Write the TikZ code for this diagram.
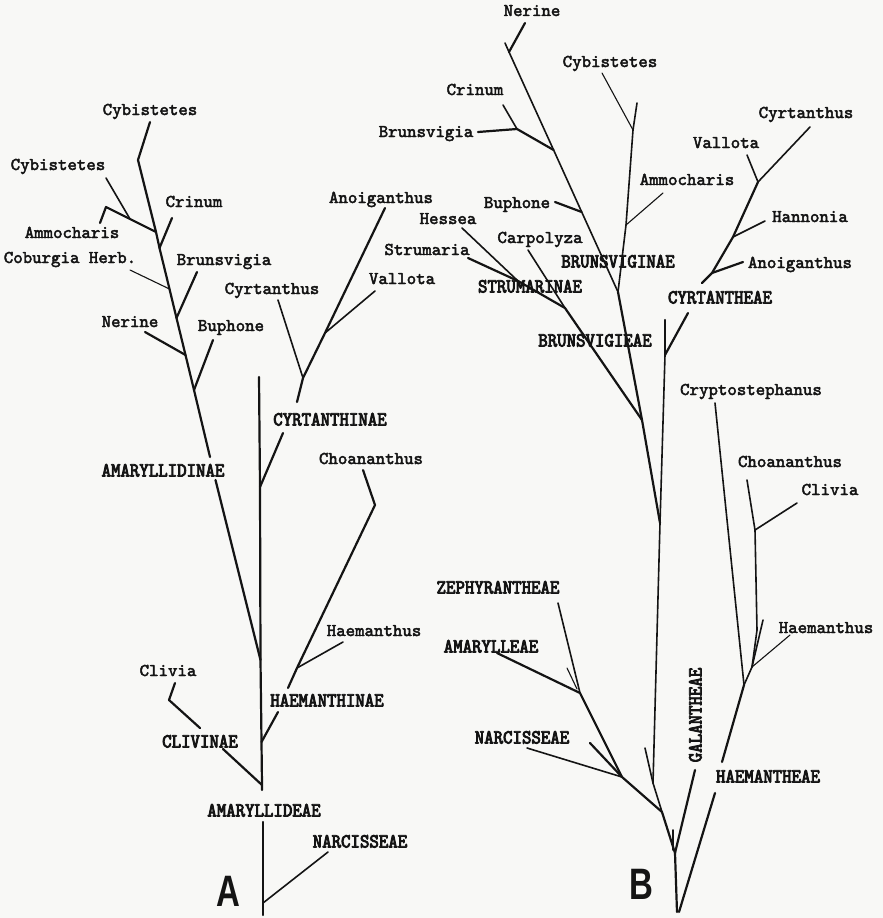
\documentclass[tikz,border=0pt]{standalone}
\usepackage{fontspec}
\newfontfamily\twfont[FakeBold=2.6]{lmmono10-regular.otf}
\newfontfamily\capfont[FakeBold=4.2,FakeStretch=0.9]{lmmono10-regular.otf}
\newfontfamily\letterfont[FakeStretch=0.75]{Liberation Sans Bold}
\definecolor{bgc}{RGB}{248,248,246}
\definecolor{ink}{RGB}{20,20,20}
\begin{document}
\begin{tikzpicture}[x=1pt,y=-1pt,
  lc/.style={inner sep=0pt,text height=10pt,text depth=0pt,text=ink,font=\twfont\fontsize{18}{18}\selectfont},
  uc/.style={inner sep=0pt,text height=11pt,text depth=0pt,text=ink,font=\capfont\fontsize{20}{20}\selectfont},
  letterlbl/.style={inner sep=0pt,text=ink,font=\letterfont\fontsize{44}{44}\selectfont},
  thk/.style={draw=ink,line width=2.2pt,line cap=round,line join=round},
  med/.style={draw=ink,line width=1.6pt,line cap=round,line join=round},
  thn/.style={draw=ink,line width=1.1pt,line cap=round,line join=round}]
\fill[bgc] (0,0) rectangle (883,918);
\useasboundingbox (0,0) rectangle (883,918);

%%%%%%%%%%%%%%%% TREE A %%%%%%%%%%%%%%%%
\coordinate (aC1) at (150,122);
\coordinate (aS0) at (138,160);
\coordinate (aJ1) at (156,232);
\coordinate (aK) at (106,207);
\coordinate (aAmT) at (100,223);
\coordinate (aC2T) at (106,178);
\coordinate (aC2J) at (130,219);
\coordinate (aCrT) at (172,218);
\coordinate (aCrJ) at (159.5,248);
\coordinate (aCoT) at (130,270);
\coordinate (aCoJ) at (169.5,289);
\coordinate (aBrT) at (197,272);
\coordinate (aBrJ) at (176.5,318);
\coordinate (aNeT) at (145,332);
\coordinate (aNeJ) at (185.5,355);
\coordinate (aBuT) at (213,340);
\coordinate (aBuJ) at (194,390);
\coordinate (aSa) at (210,457);
\coordinate (aSb) at (215.5,480);
\coordinate (aX0) at (259,377);
\coordinate (aCyJ) at (260,487);
\coordinate (aSJ) at (260.5,660);
\coordinate (aHmJ) at (261.5,742);
\coordinate (aClJ) at (262,785);
\coordinate (aX1) at (262,790);
\coordinate (aX2) at (263,822);
\coordinate (aNaJ) at (263,903);
\coordinate (aX3) at (263,915);
\coordinate (aCyT) at (283,433);
\coordinate (aCyB) at (297,402);
\coordinate (aCyK) at (303,378);
\coordinate (aVaJ) at (325,333);
\coordinate (aAnT) at (385,208);
\coordinate (aCtT) at (278,300);
\coordinate (aVaT) at (375,291);
\coordinate (aChT) at (363,470);
\coordinate (aChK) at (375,505);
\coordinate (aHaJ) at (297,668);
\coordinate (aHmB) at (288,688);
\coordinate (aHaT) at (343,642);
\coordinate (aHmT) at (278,712);
\coordinate (aClT) at (175,683);
\coordinate (aClK) at (169,700);
\coordinate (aClB) at (200,728);
\coordinate (aClU) at (223,749);
\coordinate (aNaT) at (328,852);

\path[thk] (aC1) -- (aS0) -- (aJ1) -- (aCrJ) -- (aCoJ) -- (aBrJ) -- (aNeJ) -- (aBuJ) -- (aSa);
\path[thk] (aSb) -- (aSJ);
\path[thk] (aAmT) -- (aK) -- (aJ1);
\path[med] (aC2T) -- (aC2J);
\path[thk] (aCrT) -- (aCrJ);
\path[thn] (aCoT) -- (aCoJ);
\path[thk] (aBrT) -- (aBrJ);
\path[thk] (aNeT) -- (aNeJ);
\path[thk] (aBuT) -- (aBuJ);
\path[thk] (aX0) -- (aCyJ) -- (aSJ) -- (aHmJ) -- (aClJ) -- (aX1);
\path[thk] (aX2) -- (aNaJ) -- (aX3);
\path[thk] (aCyT) -- (aCyJ);
\path[thk] (aCyB) -- (aCyK) -- (aVaJ) -- (aAnT);
\path[med] (aCtT) -- (aCyK);
\path[med] (aVaT) -- (aVaJ);
\path[thk] (aChT) -- (aChK) -- (aHaJ) -- (aHmB);
\path[med] (aHaT) -- (aHaJ);
\path[thk] (aHmT) -- (aHmJ);
\path[thk] (aClT) -- (aClK) -- (aClB);
\path[thk] (aClU) -- (aClJ);
\path[med] (aNaT) -- (aNaJ);

\node[lc] (lAcyb1) at (150,110) {Cybistetes};
\node[lc] (lAcyb2) at (58,165) {Cybistetes};
\node[lc] (lAamm) at (72,233) {Ammocharis};
\node[lc] (lAcrin) at (194,202) {Crinum};
\node[lc] (lAcob) at (70,258) {Coburgia Herb.};
\node[lc] (lAbrun) at (224,260) {Brunsvigia};
\node[lc] (lAner) at (130,322) {Nerine};
\node[lc] (lAbuph) at (231,326) {Buphone};
\node[uc] (lAamd) at (163,471) {AMARYLLIDINAE};
\node[lc] (lAanoi) at (381,198) {Anoiganthus};
\node[lc] (lAvall) at (402,279) {Vallota};
\node[lc] (lAcyrt) at (272,289) {Cyrtanthus};
\node[uc] (lAcyrtin) at (330,420) {CYRTANTHINAE};
\node[lc] (lAchoa) at (371,459) {Choananthus};
\node[lc] (lAhaem) at (374,631) {Haemanthus};
\node[uc] (lAhaemin) at (327,701) {HAEMANTHINAE};
\node[lc] (lAcliv) at (168,671) {Clivia};
\node[uc] (lAclivin) at (200,742) {CLIVINAE};
\node[uc] (lAamy) at (264,811) {AMARYLLIDEAE};
\node[uc] (lAnarc) at (360,842) {NARCISSEAE};
\node[letterlbl] (letA) at (228,891) {A};

%%%%%%%%%%%%%%%% TREE B %%%%%%%%%%%%%%%%
\coordinate (bNeT) at (525,23);
\coordinate (bNeJ) at (509,52);
\coordinate (bS0) at (505,43);
\coordinate (bBJs) at (553.6,150);
\coordinate (bBuJ) at (581.7,212);
\coordinate (bBN) at (618,292);
\coordinate (bCrT) at (503,105);
\coordinate (bBJ) at (517,129);
\coordinate (bBrT) at (478,132);
\coordinate (bBuT) at (555,202);
\coordinate (bCy0) at (637,103);
\coordinate (bCyJ) at (633,130);
\coordinate (bAmJ) at (626,225);
\coordinate (bCyT) at (602,73);
\coordinate (bAmT) at (663,193);
\coordinate (bBgJ) at (642,420);
\coordinate (bLgJ) at (660,523);
\coordinate (bHeT) at (462,228);
\coordinate (bSJ) at (518,281);
\coordinate (bStT) at (468,258);
\coordinate (bStJ) at (565,308);
\coordinate (bCaT) at (528,250);
\coordinate (bCtT) at (810,127);
\coordinate (bVaJ) at (758,182);
\coordinate (bHnJ) at (733,237);
\coordinate (bAnJ) at (712,273);
\coordinate (bCyB) at (702,283);
\coordinate (bVaT) at (747,155);
\coordinate (bHnT) at (765,221);
\coordinate (bAnT) at (743,262);
\coordinate (bL0) at (665,320);
\coordinate (bCyJ2) at (665,355);
\coordinate (bCyU) at (688,313);
\coordinate (bLB) at (653,783);
\coordinate (bCpT) at (715,403);
\coordinate (bHJ) at (744,685);
\coordinate (bChT) at (747,480);
\coordinate (bClJ) at (755,530);
\coordinate (bHk) at (757,630);
\coordinate (bHmJ) at (752,667);
\coordinate (bHtk) at (763,620);
\coordinate (bHaT) at (790,635);
\coordinate (bClT) at (797,503);
\coordinate (bHB) at (722,762);
\coordinate (bHeT2) at (715,793);
\coordinate (bTB2) at (679,912);
\coordinate (bGaT) at (695,770);
\coordinate (bTJ) at (675,853);
\coordinate (bTB) at (677,912);
\coordinate (bTk0) at (673,850);
\coordinate (bTk1) at (673,830);
\coordinate (bZeT) at (558,603);
\coordinate (bZJ) at (580,693);
\coordinate (bZk0) at (567,668);
\coordinate (bZk1) at (577,689);
\coordinate (bAyT) at (497,653);
\coordinate (bNJ) at (622,777);
\coordinate (bNaT) at (527,748);
\coordinate (bNk) at (590,743);
\coordinate (bMJ) at (662,812);
\coordinate (bLk) at (645,748);

\path[thk] (bNeT) -- (bNeJ);
\path[med] (bS0) -- (bNeJ) -- (bBJs) -- (bBuJ) -- (bBN);
\path[med] (bCrT) -- (bBJ);
\path[thk] (bBrT) -- (bBJ) -- (bBJs);
\path[thk] (bBuT) -- (bBuJ);
\path[med] (bCy0) -- (bCyJ) -- (bAmJ) -- (bBN);
\path[thn] (bCyT) -- (bCyJ);
\path[thn] (bAmT) -- (bAmJ);
\path[thk] (bBN) -- (bBgJ) -- (bLgJ);
\path[med] (bHeT) -- (bSJ);
\path[thk] (bStT) -- (bSJ) -- (bStJ);
\path[med] (bCaT) -- (bStJ);
\path[thk] (bStJ) -- (bBgJ);
\path[med] (bCtT) -- (bVaJ);
\path[med] (bVaT) -- (bVaJ);
\path[thk] (bVaJ) -- (bHnJ) -- (bAnJ) -- (bCyB);
\path[med] (bHnT) -- (bHnJ);
\path[thk] (bAnT) -- (bAnJ);
\path[thk] (bL0) -- (bCyJ2);
\path[thk] (bCyU) -- (bCyJ2);
\path[med] (bCyJ2) -- (bLgJ) -- (bLB);
\path[med] (bCpT) -- (bHJ);
\path[med] (bChT) -- (bClJ) -- (bHk) -- (bHmJ) -- (bHJ);
\path[med] (bHtk) -- (bHmJ);
\path[thn] (bHaT) -- (bHmJ);
\path[med] (bClT) -- (bClJ);
\path[thk] (bHJ) -- (bHB);
\path[thk] (bHeT2) -- (bTB2);
\path[thk] (bGaT) -- (bTJ);
\path[thk] (bTJ) -- (bTB);
\path[med] (bTk0) -- (bTk1);
\path[med] (bZeT) -- (bZJ);
\path[thn] (bZk0) -- (bZk1);
\path[thk] (bAyT) -- (bZJ) -- (bNJ);
\path[med] (bNaT) -- (bNJ);
\path[thk] (bNk) -- (bNJ);
\path[thk] (bNJ) -- (bMJ) -- (bTJ);
\path[med] (bLk) -- (bLB) -- (bMJ);

\node[lc] (lBner) at (532,11) {Nerine};
\node[lc] (lBcyb) at (610,62) {Cybistetes};
\node[lc] (lBcrin) at (475,90) {Crinum};
\node[lc] (lBbrun) at (426,132) {Brunsvigia};
\node[lc] (lBamm) at (687,180) {Ammocharis};
\node[lc] (lBbuph) at (517,203) {Buphone};
\node[lc] (lBhess) at (448,219) {Hessea};
\node[lc] (lBcarp) at (540,238) {Carpolyza};
\node[lc] (lBstrum) at (427,250) {Strumaria};
\node[uc] (lBbrnae) at (618,262) {BRUNSVIGINAE};
\node[uc] (lBstnae) at (530,287) {STRUMARINAE};
\node[uc] (lBbreae) at (595,341) {BRUNSVIGIEAE};
\node[lc] (lBcyrt) at (806,113) {Cyrtanthus};
\node[lc] (lBvall) at (726,143) {Vallota};
\node[lc] (lBhann) at (810,217) {Hannonia};
\node[lc] (lBanoi) at (800,263) {Anoiganthus};
\node[uc] (lBcyeae) at (720,298) {CYRTANTHEAE};
\node[lc] (lBcrypt) at (751,390) {Cryptostephanus};
\node[lc] (lBchoa) at (790,462) {Choananthus};
\node[lc] (lBcliv) at (830,490) {Clivia};
\node[lc] (lBhaem) at (826,628) {Haemanthus};
\node[uc] (lBzeph) at (498,588) {ZEPHYRANTHEAE};
\node[uc] (lBamy) at (491,647) {AMARYLLEAE};
\node[uc] (lBnarc) at (522,738) {NARCISSEAE};
\node[uc,rotate=90] (lBgal) at (696,715) {GALANTHEAE};
\node[uc] (lBhmeae) at (768,777) {HAEMANTHEAE};
\node[letterlbl] (letB) at (641,884) {B};
\end{tikzpicture}
\end{document}
